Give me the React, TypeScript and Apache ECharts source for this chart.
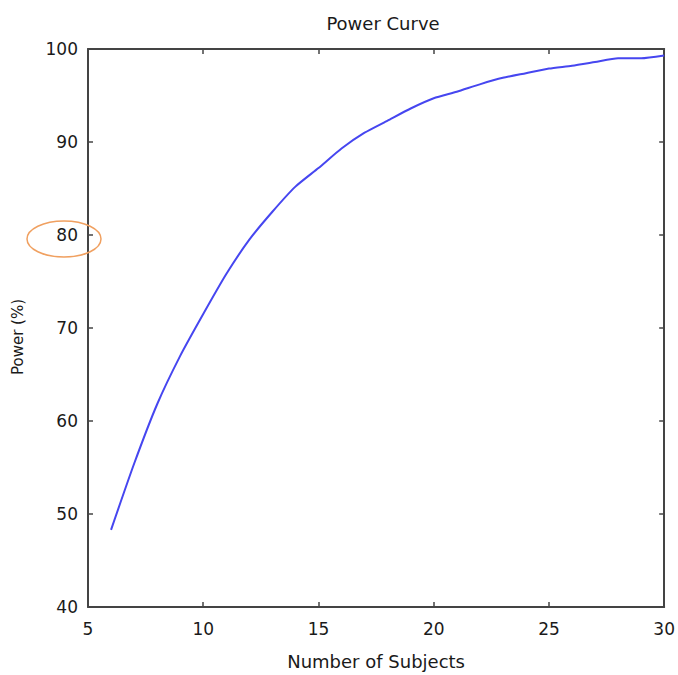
import React, { useEffect, useRef } from "react";
import * as echarts from "echarts";

const subjects = [6, 7, 8, 9, 10, 11, 12, 13, 14, 15, 16, 17, 18, 19, 20, 21, 22, 23, 24, 25, 26, 27, 28, 29, 30];
const powerPct = [48.3, 55.4, 61.8, 67, 71.5, 75.8, 79.5, 82.5, 85.2, 87.2, 89.3, 91.0, 92.3, 93.6, 94.7, 95.4, 96.2, 96.9, 97.4, 97.9, 98.2, 98.6, 99.0, 99.0, 99.3];
const titleText = "Power Curve";
const xName = "Number of Subjects";
const yName = "Power (%)";

const FONT = "DejaVu Sans";
const TXT = "#1a1a1a";
const AX = "#444";

export default function App() {
  const ref = useRef<HTMLDivElement>(null);
  useEffect(() => {
    const chart = echarts.init(ref.current!, null, { renderer: "svg" });
    const axisLine = { show: true, lineStyle: { color: AX, width: 2 } };
    const axisTick = { show: true, inside: true, length: 5, lineStyle: { color: AX, width: 1.5 } };
    chart.setOption({
      animation: false,
      backgroundColor: "#fff",
      title: {
        text: titleText,
        left: 378,
        top: 9,
        textAlign: "center",
        textStyle: { fontFamily: FONT, fontSize: 18, fontWeight: "normal", color: TXT },
      },
      grid: { left: 88, right: 11, top: 49, bottom: 68 },
      xAxis: [
        {
          type: "value",
          min: 5,
          max: 30,
          interval: 5,
          name: xName,
          nameLocation: "middle",
          nameGap: 45,
          nameTextStyle: { fontFamily: FONT, fontSize: 18, color: TXT },
          axisLine,
          axisTick,
          splitLine: { show: false },
          axisLabel: { fontFamily: FONT, fontSize: 17, color: TXT, margin: 13 },
        },
        {
          type: "value",
          position: "top",
          min: 5,
          max: 30,
          interval: 5,
          axisLine,
          axisTick,
          splitLine: { show: false },
          axisLabel: { show: false },
        },
      ],
      yAxis: [
        {
          type: "value",
          min: 40,
          max: 100,
          interval: 10,
          name: yName,
          nameLocation: "middle",
          nameRotate: 90,
          nameGap: 63,
          nameTextStyle: { fontFamily: FONT, fontSize: 15, color: TXT, padding: [0, 18, 0, 0] },
          axisLine,
          axisTick,
          splitLine: { show: false },
          axisLabel: { fontFamily: FONT, fontSize: 17, color: TXT, margin: 10 },
        },
        {
          type: "value",
          position: "right",
          min: 40,
          max: 100,
          interval: 10,
          axisLine,
          axisTick,
          splitLine: { show: false },
          axisLabel: { show: false },
        },
      ],
      series: [
        {
          type: "line",
          data: subjects.map((s, i) => [s, powerPct[i]]),
          showSymbol: false,
          smooth: 0.2,
          lineStyle: { color: "#4646f0", width: 2 },
        },
      ],
      graphic: [
        {
          type: "ellipse",
          shape: { cx: 64, cy: 239, rx: 37, ry: 18 },
          style: { fill: "none", stroke: "#f0a060", lineWidth: 1.5 },
          z: 100,
        },
      ],
    });
    return () => chart.dispose();
  }, []);
  return <div ref={ref} style={{ width: 678, height: 675, position: "absolute", left: 0, top: 0 }} />;
}
